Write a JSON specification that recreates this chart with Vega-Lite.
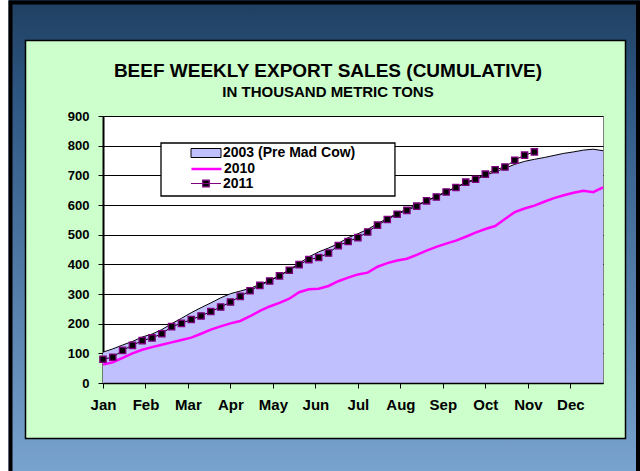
{
  "$schema": "https://vega.github.io/schema/vega-lite/v6.json",
  "width": 500,
  "height": 267,
  "autosize": "none",
  "padding": {"left": 103, "top": 116, "right": 37, "bottom": 88},
  "background": "#CCFFCC",
  "config": {
    "font": "Liberation Sans",
    "view": {"fill": "#FFFFFF", "stroke": "#808080", "strokeWidth": 1},
    "legend": {
      "title": null,
      "orient": "none",
      "padding": 0,
      "symbolSize": 144,
      "symbolOffset": 38,
      "labelOffset": 10,
      "labelFont": "Liberation Sans",
      "labelFontSize": 14,
      "labelFontWeight": "bold",
      "labelColor": "#000000",
      "labelLimit": 300,
      "symbolOpacity": 1
    }
  },
  "title": {
    "text": "BEEF WEEKLY EXPORT SALES (CUMULATIVE)",
    "subtitle": "IN THOUSAND METRIC TONS",
    "anchor": "middle",
    "dx": -25,
    "offset": -143.5,
    "font": "Liberation Sans",
    "fontSize": 19,
    "fontWeight": "bold",
    "color": "#000000",
    "subtitleFont": "Liberation Sans",
    "subtitleFontSize": 15,
    "subtitleFontWeight": "bold",
    "subtitleColor": "#000000",
    "subtitlePadding": 4
  },
  "data": {
    "values": [
      {"week": 1, "series": "2003 (Pre Mad Cow)", "tons": 104},
      {"week": 2, "series": "2003 (Pre Mad Cow)", "tons": 115},
      {"week": 3, "series": "2003 (Pre Mad Cow)", "tons": 128},
      {"week": 4, "series": "2003 (Pre Mad Cow)", "tons": 140},
      {"week": 5, "series": "2003 (Pre Mad Cow)", "tons": 155},
      {"week": 6, "series": "2003 (Pre Mad Cow)", "tons": 165},
      {"week": 7, "series": "2003 (Pre Mad Cow)", "tons": 180},
      {"week": 8, "series": "2003 (Pre Mad Cow)", "tons": 200},
      {"week": 9, "series": "2003 (Pre Mad Cow)", "tons": 218},
      {"week": 10, "series": "2003 (Pre Mad Cow)", "tons": 237},
      {"week": 11, "series": "2003 (Pre Mad Cow)", "tons": 254},
      {"week": 12, "series": "2003 (Pre Mad Cow)", "tons": 270},
      {"week": 13, "series": "2003 (Pre Mad Cow)", "tons": 287},
      {"week": 14, "series": "2003 (Pre Mad Cow)", "tons": 301},
      {"week": 15, "series": "2003 (Pre Mad Cow)", "tons": 310},
      {"week": 16, "series": "2003 (Pre Mad Cow)", "tons": 319},
      {"week": 17, "series": "2003 (Pre Mad Cow)", "tons": 332},
      {"week": 18, "series": "2003 (Pre Mad Cow)", "tons": 346},
      {"week": 19, "series": "2003 (Pre Mad Cow)", "tons": 362},
      {"week": 20, "series": "2003 (Pre Mad Cow)", "tons": 382},
      {"week": 21, "series": "2003 (Pre Mad Cow)", "tons": 403},
      {"week": 22, "series": "2003 (Pre Mad Cow)", "tons": 425},
      {"week": 23, "series": "2003 (Pre Mad Cow)", "tons": 442},
      {"week": 24, "series": "2003 (Pre Mad Cow)", "tons": 455},
      {"week": 25, "series": "2003 (Pre Mad Cow)", "tons": 470},
      {"week": 26, "series": "2003 (Pre Mad Cow)", "tons": 490},
      {"week": 27, "series": "2003 (Pre Mad Cow)", "tons": 503},
      {"week": 28, "series": "2003 (Pre Mad Cow)", "tons": 518},
      {"week": 29, "series": "2003 (Pre Mad Cow)", "tons": 537},
      {"week": 30, "series": "2003 (Pre Mad Cow)", "tons": 555},
      {"week": 31, "series": "2003 (Pre Mad Cow)", "tons": 571},
      {"week": 32, "series": "2003 (Pre Mad Cow)", "tons": 587},
      {"week": 33, "series": "2003 (Pre Mad Cow)", "tons": 600},
      {"week": 34, "series": "2003 (Pre Mad Cow)", "tons": 614},
      {"week": 35, "series": "2003 (Pre Mad Cow)", "tons": 630},
      {"week": 36, "series": "2003 (Pre Mad Cow)", "tons": 645},
      {"week": 37, "series": "2003 (Pre Mad Cow)", "tons": 660},
      {"week": 38, "series": "2003 (Pre Mad Cow)", "tons": 673},
      {"week": 39, "series": "2003 (Pre Mad Cow)", "tons": 686},
      {"week": 40, "series": "2003 (Pre Mad Cow)", "tons": 700},
      {"week": 41, "series": "2003 (Pre Mad Cow)", "tons": 712},
      {"week": 42, "series": "2003 (Pre Mad Cow)", "tons": 724},
      {"week": 43, "series": "2003 (Pre Mad Cow)", "tons": 737},
      {"week": 44, "series": "2003 (Pre Mad Cow)", "tons": 747},
      {"week": 45, "series": "2003 (Pre Mad Cow)", "tons": 754},
      {"week": 46, "series": "2003 (Pre Mad Cow)", "tons": 760},
      {"week": 47, "series": "2003 (Pre Mad Cow)", "tons": 767},
      {"week": 48, "series": "2003 (Pre Mad Cow)", "tons": 774},
      {"week": 49, "series": "2003 (Pre Mad Cow)", "tons": 779},
      {"week": 50, "series": "2003 (Pre Mad Cow)", "tons": 785},
      {"week": 51, "series": "2003 (Pre Mad Cow)", "tons": 788},
      {"week": 52, "series": "2003 (Pre Mad Cow)", "tons": 783},
      {"week": 1, "series": "2010", "tons": 62},
      {"week": 2, "series": "2010", "tons": 70},
      {"week": 3, "series": "2010", "tons": 85},
      {"week": 4, "series": "2010", "tons": 100},
      {"week": 5, "series": "2010", "tons": 112},
      {"week": 6, "series": "2010", "tons": 121},
      {"week": 7, "series": "2010", "tons": 129},
      {"week": 8, "series": "2010", "tons": 137},
      {"week": 9, "series": "2010", "tons": 145},
      {"week": 10, "series": "2010", "tons": 153},
      {"week": 11, "series": "2010", "tons": 166},
      {"week": 12, "series": "2010", "tons": 180},
      {"week": 13, "series": "2010", "tons": 191},
      {"week": 14, "series": "2010", "tons": 201},
      {"week": 15, "series": "2010", "tons": 209},
      {"week": 16, "series": "2010", "tons": 225},
      {"week": 17, "series": "2010", "tons": 243},
      {"week": 18, "series": "2010", "tons": 258},
      {"week": 19, "series": "2010", "tons": 270},
      {"week": 20, "series": "2010", "tons": 284},
      {"week": 21, "series": "2010", "tons": 306},
      {"week": 22, "series": "2010", "tons": 316},
      {"week": 23, "series": "2010", "tons": 318},
      {"week": 24, "series": "2010", "tons": 327},
      {"week": 25, "series": "2010", "tons": 343},
      {"week": 26, "series": "2010", "tons": 355},
      {"week": 27, "series": "2010", "tons": 366},
      {"week": 28, "series": "2010", "tons": 372},
      {"week": 29, "series": "2010", "tons": 392},
      {"week": 30, "series": "2010", "tons": 404},
      {"week": 31, "series": "2010", "tons": 413},
      {"week": 32, "series": "2010", "tons": 419},
      {"week": 33, "series": "2010", "tons": 432},
      {"week": 34, "series": "2010", "tons": 446},
      {"week": 35, "series": "2010", "tons": 459},
      {"week": 36, "series": "2010", "tons": 470},
      {"week": 37, "series": "2010", "tons": 480},
      {"week": 38, "series": "2010", "tons": 493},
      {"week": 39, "series": "2010", "tons": 507},
      {"week": 40, "series": "2010", "tons": 519},
      {"week": 41, "series": "2010", "tons": 529},
      {"week": 42, "series": "2010", "tons": 553},
      {"week": 43, "series": "2010", "tons": 576},
      {"week": 44, "series": "2010", "tons": 588},
      {"week": 45, "series": "2010", "tons": 598},
      {"week": 46, "series": "2010", "tons": 611},
      {"week": 47, "series": "2010", "tons": 623},
      {"week": 48, "series": "2010", "tons": 633},
      {"week": 49, "series": "2010", "tons": 641},
      {"week": 50, "series": "2010", "tons": 648},
      {"week": 51, "series": "2010", "tons": 643},
      {"week": 52, "series": "2010", "tons": 659},
      {"week": 1, "series": "2011", "tons": 80},
      {"week": 2, "series": "2011", "tons": 87},
      {"week": 3, "series": "2011", "tons": 110},
      {"week": 4, "series": "2011", "tons": 127},
      {"week": 5, "series": "2011", "tons": 143},
      {"week": 6, "series": "2011", "tons": 152},
      {"week": 7, "series": "2011", "tons": 166},
      {"week": 8, "series": "2011", "tons": 190},
      {"week": 9, "series": "2011", "tons": 201},
      {"week": 10, "series": "2011", "tons": 214},
      {"week": 11, "series": "2011", "tons": 226},
      {"week": 12, "series": "2011", "tons": 241},
      {"week": 13, "series": "2011", "tons": 256},
      {"week": 14, "series": "2011", "tons": 273},
      {"week": 15, "series": "2011", "tons": 292},
      {"week": 16, "series": "2011", "tons": 311},
      {"week": 17, "series": "2011", "tons": 329},
      {"week": 18, "series": "2011", "tons": 344},
      {"week": 19, "series": "2011", "tons": 361},
      {"week": 20, "series": "2011", "tons": 380},
      {"week": 21, "series": "2011", "tons": 399},
      {"week": 22, "series": "2011", "tons": 416},
      {"week": 23, "series": "2011", "tons": 423},
      {"week": 24, "series": "2011", "tons": 438},
      {"week": 25, "series": "2011", "tons": 463},
      {"week": 26, "series": "2011", "tons": 477},
      {"week": 27, "series": "2011", "tons": 490},
      {"week": 28, "series": "2011", "tons": 509},
      {"week": 29, "series": "2011", "tons": 532},
      {"week": 30, "series": "2011", "tons": 551},
      {"week": 31, "series": "2011", "tons": 569},
      {"week": 32, "series": "2011", "tons": 582},
      {"week": 33, "series": "2011", "tons": 596},
      {"week": 34, "series": "2011", "tons": 614},
      {"week": 35, "series": "2011", "tons": 627},
      {"week": 36, "series": "2011", "tons": 644},
      {"week": 37, "series": "2011", "tons": 659},
      {"week": 38, "series": "2011", "tons": 677},
      {"week": 39, "series": "2011", "tons": 687},
      {"week": 40, "series": "2011", "tons": 704},
      {"week": 41, "series": "2011", "tons": 719},
      {"week": 42, "series": "2011", "tons": 728},
      {"week": 43, "series": "2011", "tons": 751},
      {"week": 44, "series": "2011", "tons": 768},
      {"week": 45, "series": "2011", "tons": 779}
    ]
  },
  "layer": [
    {
      "transform": [{"filter": "datum.series === '2003 (Pre Mad Cow)'"}],
      "mark": {"type": "area", "opacity": 1, "fillOpacity": 1},
      "encoding": {
        "x": {
          "field": "week",
          "type": "quantitative",
          "scale": {"domain": [1, 52], "nice": false, "zero": false},
          "axis": {
            "title": null,
            "values": [1, 5.3333, 9.6667, 14, 18.3333, 22.6667, 27, 31.3333, 35.6667, 40, 44.3333, 48.6667],
            "tickCount": 20,
            "labelExpr": "['Jan','Feb','Mar','Apr','May','Jun','Jul','Aug','Sep','Oct','Nov','Dec'][round((datum.value - 1) * 12 / 52)]",
            "grid": false,
            "zindex": 1,
            "domainColor": "#000000",
            "domainWidth": 1.5,
            "tickColor": "#000000",
            "tickSize": 5,
            "labelFont": "Liberation Sans",
            "labelFontSize": 15,
            "labelFontWeight": "bold",
            "labelColor": "#000000",
            "labelPadding": 9,
            "labelFlush": false,
            "labelOverlap": false
          }
        },
        "y": {
          "field": "tons",
          "type": "quantitative",
          "scale": {"domain": [0, 900], "nice": false},
          "axis": {
            "title": null,
            "values": [0, 100, 200, 300, 400, 500, 600, 700, 800, 900],
            "tickCount": 20,
            "grid": true,
            "gridColor": "#000000",
            "gridWidth": 1,
            "gridOpacity": 1,
            "domainColor": "#000000",
            "domainWidth": 2,
            "tickColor": "#000000",
            "tickSize": 5,
            "labelFont": "Liberation Sans",
            "labelFontSize": 13,
            "labelFontWeight": "bold",
            "labelColor": "#000000",
            "labelPadding": 9,
            "labelFlush": false,
            "labelOverlap": false,
            "labelBound": false
          }
        },
        "fill": {
          "field": "series",
          "type": "nominal",
          "scale": {"domain": ["2003 (Pre Mad Cow)"], "range": ["#C0C0FF"]},
          "legend": {
            "legendX": 58,
            "legendY": 30,
            "symbolType": "M-2.5,-0.75H2.5V0.75H-2.5Z",
            "symbolStrokeColor": "#000000",
            "symbolStrokeWidth": 1
          }
        }
      }
    },
    {
      "transform": [{"filter": "datum.series === '2003 (Pre Mad Cow)'"}],
      "mark": {"type": "line", "color": "#000000", "strokeWidth": 1},
      "encoding": {
        "x": {"field": "week", "type": "quantitative"},
        "y": {"field": "tons", "type": "quantitative"}
      }
    },
    {
      "transform": [{"filter": "datum.series === '2010'"}],
      "mark": {"type": "line", "strokeWidth": 2.5},
      "encoding": {
        "x": {"field": "week", "type": "quantitative"},
        "y": {"field": "tons", "type": "quantitative"},
        "stroke": {
          "field": "series",
          "type": "nominal",
          "scale": {"domain": ["2010"], "range": ["#FF00FF"]},
          "legend": {
            "legendX": 58,
            "legendY": 45.5,
            "symbolType": "M-2.5,0H2.5",
            "symbolStrokeWidth": 2.5
          }
        }
      }
    },
    {
      "transform": [{"filter": "datum.series === '2011'"}],
      "mark": {"type": "line", "color": "#000000", "strokeWidth": 1},
      "encoding": {
        "x": {"field": "week", "type": "quantitative"},
        "y": {"field": "tons", "type": "quantitative"}
      }
    },
    {
      "transform": [{"filter": "datum.series === '2011'"}],
      "mark": {"type": "point", "shape": "square", "size": 40, "filled": true, "fill": "#000000", "stroke": "#800080", "strokeWidth": 1.3},
      "encoding": {
        "x": {"field": "week", "type": "quantitative"},
        "y": {"field": "tons", "type": "quantitative"},
        "opacity": {
          "field": "series",
          "type": "nominal",
          "scale": {"domain": ["2011"], "range": [1]},
          "legend": {
            "legendX": 58,
            "legendY": 60.5,
            "symbolType": "M-2.5,0H2.5M-0.55,-0.55H0.55V0.55H-0.55Z",
            "symbolStrokeWidth": 1.2
          }
        }
      }
    },
    {
      "data": {"values": [{}]},
      "mark": {"type": "rect", "fill": "#FFFFFF", "stroke": "#000000", "strokeWidth": 1.3},
      "encoding": {
        "x": {"datum": 6.916, "type": "quantitative"},
        "x2": {"datum": 30.78},
        "y": {"datum": 809.0, "type": "quantitative"},
        "y2": {"datum": 630.3}
      }
    },
    {
      "data": {"values": [{}]},
      "mark": {
        "type": "rect",
        "filled": false,
        "strokeWidth": 84,
        "stroke": {
          "gradient": "linear",
          "x1": 0, "y1": 0, "x2": 0, "y2": 1,
          "stops": [
            {"offset": 0, "color": "#1f3f60"},
            {"offset": 0.2, "color": "#2d5682"},
            {"offset": 1, "color": "#7aa5d0"}
          ]
        }
      },
      "encoding": {
        "x": {"datum": -11.19, "type": "quantitative"},
        "x2": {"datum": 58.58},
        "y": {"datum": 1296.1, "type": "quantitative"},
        "y2": {"datum": -328.7}
      }
    },
    {
      "data": {"values": [{}]},
      "mark": {"type": "rect", "filled": false, "stroke": "#FFFFFF", "strokeWidth": 29},
      "encoding": {
        "x": {"datum": -10.118, "type": "quantitative"},
        "x2": {"datum": 61.894},
        "y": {"datum": 1358.4, "type": "quantitative"},
        "y2": {"datum": -461.8}
      }
    },
    {
      "data": {"values": [{}]},
      "mark": {"type": "rect", "filled": false, "stroke": "#000000", "strokeWidth": 4},
      "encoding": {
        "x": {"datum": -8.435, "type": "quantitative"},
        "x2": {"datum": 55.57},
        "y": {"datum": 1282.6, "type": "quantitative"},
        "y2": {"datum": -461.8}
      }
    },
    {
      "data": {"values": [{}]},
      "mark": {"type": "rect", "filled": false, "stroke": "#000000", "strokeWidth": 1.5},
      "encoding": {
        "x": {"datum": -6.905, "type": "quantitative"},
        "x2": {"datum": 54.295},
        "y": {"datum": 1154.5, "type": "quantitative"},
        "y2": {"datum": -187.1}
      }
    }
  ]
}
